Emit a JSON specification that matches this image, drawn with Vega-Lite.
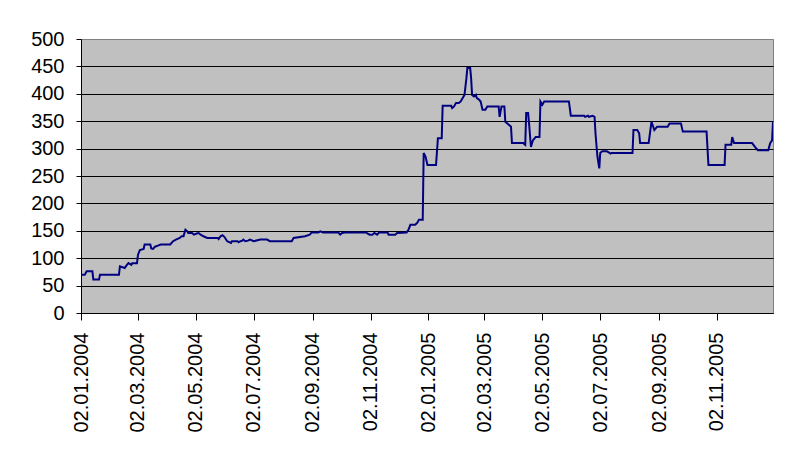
{
  "$schema": "https://vega.github.io/schema/vega-lite/v6.json",
  "width": 692,
  "height": 274,
  "autosize": {"type": "none"},
  "padding": {"left": 81, "top": 39, "right": 22, "bottom": 142},
  "background": "white",
  "config": {
    "view": {"fill": "#C0C0C0", "stroke": "#808080", "strokeWidth": 1},
    "font": "Liberation Sans"
  },
  "data": {
    "values": [
      {"d": "2004-01-02", "v": 70}, {"d": "2004-01-06", "v": 70}, {"d": "2004-01-08", "v": 76}, {"d": "2004-01-14", "v": 76},
      {"d": "2004-01-15", "v": 61}, {"d": "2004-01-21", "v": 61}, {"d": "2004-01-22", "v": 70}, {"d": "2004-02-11", "v": 70},
      {"d": "2004-02-12", "v": 85}, {"d": "2004-02-17", "v": 82}, {"d": "2004-02-19", "v": 87}, {"d": "2004-02-21", "v": 91},
      {"d": "2004-02-24", "v": 88}, {"d": "2004-02-25", "v": 91}, {"d": "2004-03-01", "v": 91}, {"d": "2004-03-02", "v": 106},
      {"d": "2004-03-04", "v": 115}, {"d": "2004-03-08", "v": 117}, {"d": "2004-03-09", "v": 125}, {"d": "2004-03-15", "v": 125},
      {"d": "2004-03-16", "v": 118}, {"d": "2004-03-18", "v": 117}, {"d": "2004-03-20", "v": 121}, {"d": "2004-03-23", "v": 123},
      {"d": "2004-03-26", "v": 125}, {"d": "2004-04-05", "v": 125}, {"d": "2004-04-08", "v": 131}, {"d": "2004-04-11", "v": 134},
      {"d": "2004-04-15", "v": 137}, {"d": "2004-04-17", "v": 140}, {"d": "2004-04-19", "v": 140}, {"d": "2004-04-21", "v": 152},
      {"d": "2004-04-23", "v": 149}, {"d": "2004-04-24", "v": 146}, {"d": "2004-04-28", "v": 146}, {"d": "2004-04-30", "v": 143},
      {"d": "2004-05-03", "v": 145}, {"d": "2004-05-05", "v": 146}, {"d": "2004-05-07", "v": 143}, {"d": "2004-05-10", "v": 140},
      {"d": "2004-05-14", "v": 137}, {"d": "2004-05-25", "v": 137}, {"d": "2004-05-26", "v": 135}, {"d": "2004-05-28", "v": 140},
      {"d": "2004-05-30", "v": 142}, {"d": "2004-06-01", "v": 139}, {"d": "2004-06-04", "v": 131}, {"d": "2004-06-08", "v": 128},
      {"d": "2004-06-09", "v": 131}, {"d": "2004-06-15", "v": 131}, {"d": "2004-06-16", "v": 129}, {"d": "2004-06-18", "v": 131},
      {"d": "2004-06-20", "v": 132}, {"d": "2004-06-21", "v": 134}, {"d": "2004-06-23", "v": 131}, {"d": "2004-06-26", "v": 132},
      {"d": "2004-06-28", "v": 134}, {"d": "2004-07-02", "v": 131}, {"d": "2004-07-09", "v": 134}, {"d": "2004-07-16", "v": 134},
      {"d": "2004-07-19", "v": 131}, {"d": "2004-08-11", "v": 131}, {"d": "2004-08-13", "v": 137}, {"d": "2004-08-25", "v": 140},
      {"d": "2004-08-30", "v": 143}, {"d": "2004-09-01", "v": 147}, {"d": "2004-09-08", "v": 147}, {"d": "2004-09-10", "v": 149},
      {"d": "2004-09-13", "v": 147}, {"d": "2004-09-29", "v": 147}, {"d": "2004-10-01", "v": 143}, {"d": "2004-10-03", "v": 146},
      {"d": "2004-10-06", "v": 147}, {"d": "2004-10-28", "v": 147}, {"d": "2004-11-01", "v": 143}, {"d": "2004-11-04", "v": 143},
      {"d": "2004-11-06", "v": 146}, {"d": "2004-11-09", "v": 143}, {"d": "2004-11-11", "v": 147}, {"d": "2004-11-20", "v": 147},
      {"d": "2004-11-21", "v": 143}, {"d": "2004-11-28", "v": 143}, {"d": "2004-11-30", "v": 146}, {"d": "2004-12-10", "v": 147},
      {"d": "2004-12-12", "v": 152}, {"d": "2004-12-14", "v": 161}, {"d": "2004-12-19", "v": 161}, {"d": "2004-12-21", "v": 164},
      {"d": "2004-12-23", "v": 170}, {"d": "2004-12-27", "v": 170}, {"d": "2004-12-28", "v": 292}, {"d": "2004-12-30", "v": 285},
      {"d": "2005-01-01", "v": 270}, {"d": "2005-01-10", "v": 270}, {"d": "2005-01-12", "v": 319}, {"d": "2005-01-16", "v": 319},
      {"d": "2005-01-17", "v": 378}, {"d": "2005-01-26", "v": 378}, {"d": "2005-01-27", "v": 374}, {"d": "2005-01-29", "v": 377},
      {"d": "2005-01-31", "v": 383}, {"d": "2005-02-03", "v": 383}, {"d": "2005-02-05", "v": 386}, {"d": "2005-02-08", "v": 395},
      {"d": "2005-02-09", "v": 398}, {"d": "2005-02-11", "v": 428}, {"d": "2005-02-12", "v": 447}, {"d": "2005-02-15", "v": 447},
      {"d": "2005-02-16", "v": 428}, {"d": "2005-02-17", "v": 398}, {"d": "2005-02-19", "v": 395}, {"d": "2005-02-21", "v": 398},
      {"d": "2005-02-22", "v": 392}, {"d": "2005-02-24", "v": 390}, {"d": "2005-02-26", "v": 386}, {"d": "2005-02-28", "v": 371},
      {"d": "2005-03-03", "v": 371}, {"d": "2005-03-05", "v": 377}, {"d": "2005-03-17", "v": 377}, {"d": "2005-03-18", "v": 358},
      {"d": "2005-03-20", "v": 377}, {"d": "2005-03-23", "v": 377}, {"d": "2005-03-24", "v": 349}, {"d": "2005-03-28", "v": 343},
      {"d": "2005-03-30", "v": 340}, {"d": "2005-03-31", "v": 310}, {"d": "2005-04-12", "v": 310}, {"d": "2005-04-14", "v": 307},
      {"d": "2005-04-15", "v": 365}, {"d": "2005-04-17", "v": 365}, {"d": "2005-04-18", "v": 346}, {"d": "2005-04-20", "v": 303},
      {"d": "2005-04-22", "v": 315}, {"d": "2005-04-25", "v": 321}, {"d": "2005-04-29", "v": 321}, {"d": "2005-04-30", "v": 386},
      {"d": "2005-05-02", "v": 380}, {"d": "2005-05-04", "v": 386}, {"d": "2005-05-30", "v": 386}, {"d": "2005-06-01", "v": 360},
      {"d": "2005-06-15", "v": 360}, {"d": "2005-06-16", "v": 358}, {"d": "2005-06-19", "v": 360}, {"d": "2005-06-20", "v": 358},
      {"d": "2005-06-24", "v": 360}, {"d": "2005-06-26", "v": 358}, {"d": "2005-06-27", "v": 328}, {"d": "2005-06-29", "v": 286},
      {"d": "2005-07-01", "v": 264}, {"d": "2005-07-02", "v": 292}, {"d": "2005-07-04", "v": 295}, {"d": "2005-07-09", "v": 295},
      {"d": "2005-07-13", "v": 291}, {"d": "2005-07-14", "v": 292}, {"d": "2005-08-05", "v": 292}, {"d": "2005-08-06", "v": 334},
      {"d": "2005-08-10", "v": 334}, {"d": "2005-08-12", "v": 328}, {"d": "2005-08-13", "v": 310}, {"d": "2005-08-22", "v": 310},
      {"d": "2005-08-25", "v": 349}, {"d": "2005-08-28", "v": 334}, {"d": "2005-08-31", "v": 340}, {"d": "2005-09-11", "v": 340},
      {"d": "2005-09-13", "v": 346}, {"d": "2005-09-25", "v": 346}, {"d": "2005-09-27", "v": 331}, {"d": "2005-10-22", "v": 331},
      {"d": "2005-10-24", "v": 270}, {"d": "2005-11-10", "v": 270}, {"d": "2005-11-11", "v": 307}, {"d": "2005-11-17", "v": 307},
      {"d": "2005-11-18", "v": 321}, {"d": "2005-11-20", "v": 310}, {"d": "2005-12-09", "v": 310}, {"d": "2005-12-12", "v": 303},
      {"d": "2005-12-15", "v": 297}, {"d": "2005-12-26", "v": 297}, {"d": "2005-12-28", "v": 310}, {"d": "2005-12-30", "v": 315},
      {"d": "2005-12-31", "v": 349}
    ]
  },
  "mark": {"type": "line", "color": "#000080", "strokeWidth": 2, "clip": true},
  "encoding": {
    "x": {
      "field": "d",
      "type": "temporal",
      "scale": {
        "type": "utc",
        "domain": [
          {"year": 2004, "month": 1, "date": 2, "utc": true},
          {"year": 2005, "month": 12, "date": 31, "utc": true}
        ],
        "nice": false
      },
      "axis": {
        "title": null,
        "values": [
          {"year": 2004, "month": 1, "date": 2, "utc": true},
          {"year": 2004, "month": 3, "date": 2, "utc": true},
          {"year": 2004, "month": 5, "date": 2, "utc": true},
          {"year": 2004, "month": 7, "date": 2, "utc": true},
          {"year": 2004, "month": 9, "date": 2, "utc": true},
          {"year": 2004, "month": 11, "date": 2, "utc": true},
          {"year": 2005, "month": 1, "date": 2, "utc": true},
          {"year": 2005, "month": 3, "date": 2, "utc": true},
          {"year": 2005, "month": 5, "date": 2, "utc": true},
          {"year": 2005, "month": 7, "date": 2, "utc": true},
          {"year": 2005, "month": 9, "date": 2, "utc": true},
          {"year": 2005, "month": 11, "date": 2, "utc": true}
        ],
        "labelExpr": "utcFormat(datum.value, '%d.%m.%Y')",
        "labelAngle": -90,
        "labelAlign": "right",
        "labelBaseline": "middle",
        "labelFontSize": 20,
        "labelColor": "black",
        "labelPadding": 12,
        "labelOverlap": false,
        "labelFlush": false,
        "tickSize": 7,
        "tickColor": "black",
        "domainColor": "black",
        "grid": false
      }
    },
    "y": {
      "field": "v",
      "type": "quantitative",
      "scale": {"domain": [0, 500], "nice": false, "zero": true},
      "axis": {
        "title": null,
        "values": [0, 50, 100, 150, 200, 250, 300, 350, 400, 450, 500],
        "labelFontSize": 20,
        "labelColor": "black",
        "labelPadding": 12,
        "tickSize": 5,
        "tickColor": "black",
        "domainColor": "black",
        "grid": true,
        "gridColor": {"condition": {"test": "datum.value === 500", "value": "#808080"}, "value": "black"},
        "gridOpacity": 1,
        "gridWidth": 1
      }
    }
  }
}
